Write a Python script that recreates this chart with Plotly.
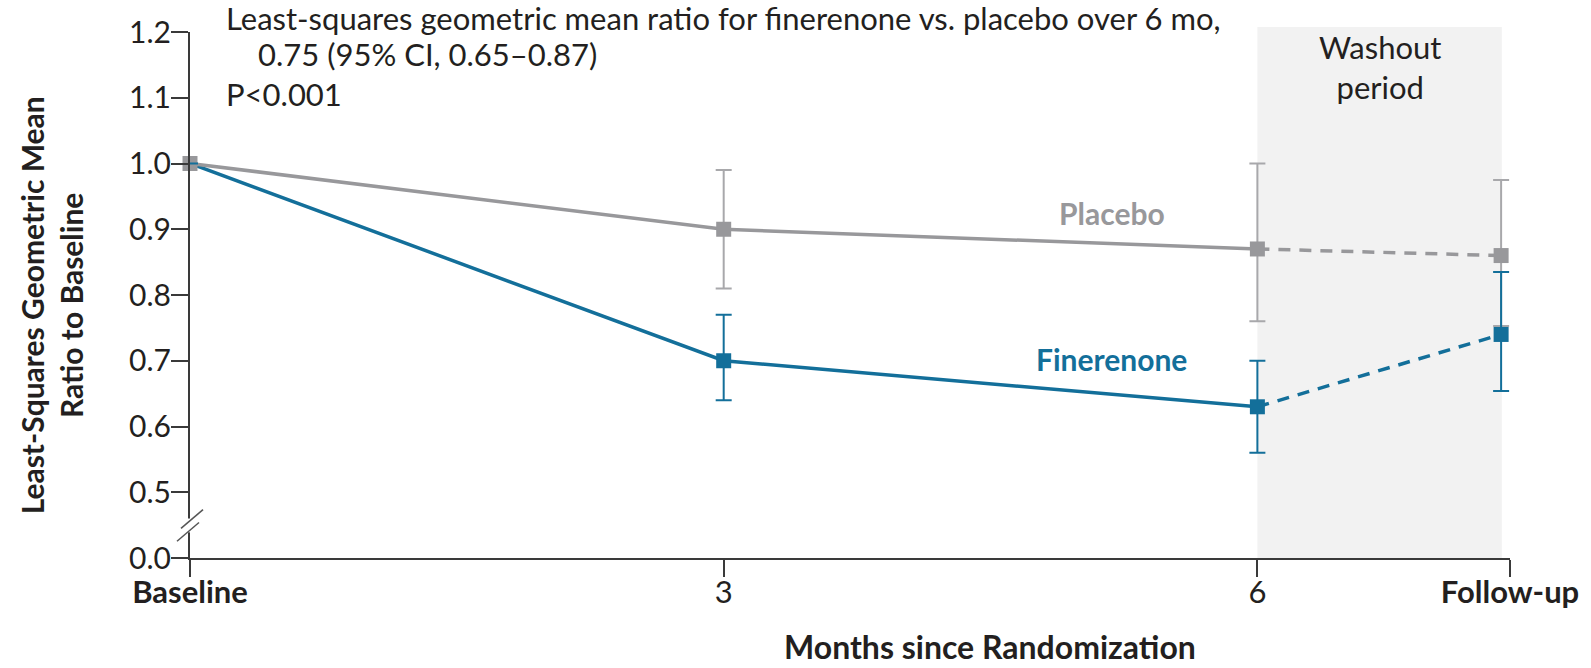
import plotly.graph_objects as go

# Visit positions on the month axis (follow-up visit sits just before the axis end)
visit_x = [0, 3, 6, 7.37]
tick_x = [0, 3, 6, 7.42]
tick_labels = ["<b>Baseline</b>", "3", "6", "<b>Follow-up</b>"]

# Least-squares geometric mean ratio to baseline, with 95% CI
placebo_mean = [1.00, 0.90, 0.87, 0.86]
placebo_upper = [1.00, 0.99, 1.00, 0.975]
placebo_lower = [1.00, 0.81, 0.76, 0.753]

finerenone_mean = [1.00, 0.70, 0.63, 0.74]
finerenone_upper = [1.00, 0.77, 0.70, 0.835]
finerenone_lower = [1.00, 0.64, 0.56, 0.654]

# Y axis: the bottom slot (0.4) is shown as 0.0 beyond the axis break
y_tickvals = [0.4, 0.5, 0.6, 0.7, 0.8, 0.9, 1.0, 1.1, 1.2]
y_ticktext = ["0.0", "0.5", "0.6", "0.7", "0.8", "0.9", "1.0", "1.1", "1.2"]

washout_start = 6
washout_end = 7.374

GRAY = "#98989b"
GRAY_BAR = "#a8a8ab"
BLUE = "#136f9a"
INK = "#231f20"
AXIS = "#3a3a3a"
FONT = "Lato"

# plot area in page pixels
L, R, T, B = 190, 1510, 25, 558


def px(x):
    return (x - L) / (R - L)


def py(y):
    return (B - y) / (B - T)


fig = go.Figure()


def add_lines(mean, color):
    fig.add_trace(go.Scatter(
        x=visit_x[:3], y=mean[:3], mode="lines",
        line=dict(color=color, width=3.5), cliponaxis=False,
        hoverinfo="skip", showlegend=False))
    fig.add_trace(go.Scatter(
        x=visit_x[2:], y=mean[2:], mode="lines",
        line=dict(color=color, width=3.5, dash="12px,9px"), cliponaxis=False,
        hoverinfo="skip", showlegend=False))


def add_points(mean, upper, lower, color, bar_color, marker_sizes):
    # confidence intervals first, squares drawn over them
    fig.add_trace(go.Scatter(
        x=visit_x, y=mean, mode="markers",
        marker=dict(size=1, color=bar_color, opacity=0, line=dict(width=0)),
        error_y=dict(type="data", symmetric=False,
                     array=[u - m for u, m in zip(upper, mean)],
                     arrayminus=[m - l for m, l in zip(mean, lower)],
                     color=bar_color, thickness=2, width=8),
        cliponaxis=False, hoverinfo="skip", showlegend=False))
    fig.add_trace(go.Scatter(
        x=visit_x, y=mean, mode="markers",
        marker=dict(symbol="square", size=marker_sizes, color=color, opacity=1,
                    line=dict(width=0)),
        cliponaxis=False, showlegend=False))


add_lines(finerenone_mean, BLUE)
add_lines(placebo_mean, GRAY)
add_points(placebo_mean, placebo_upper, placebo_lower, GRAY, GRAY_BAR, [15, 15, 15, 15])
add_points(finerenone_mean, finerenone_upper, finerenone_lower, BLUE, BLUE, [0, 15, 15, 15])

shapes = [
    # washout shading
    dict(type="rect", xref="x", yref="paper", x0=washout_start, x1=washout_end,
         y0=0, y1=py(20), fillcolor="#f2f2f2", line=dict(width=0), layer="below"),
    # axis break on the y axis
    dict(type="rect", xref="paper", yref="paper", x0=px(186), x1=px(194),
         y0=py(532), y1=py(518), fillcolor="white", line=dict(width=0), layer="above"),
    dict(type="line", xref="paper", yref="paper", x0=px(177), y0=py(541),
         x1=px(199), y1=py(522), line=dict(color="#555555", width=1.5), layer="above"),
    dict(type="line", xref="paper", yref="paper", x0=px(181), y0=py(528),
         x1=px(203), y1=py(509), line=dict(color="#555555", width=1.5), layer="above"),
]


def note(text, x, y, xanchor="left", size=30, angle=0):
    return dict(text=text, xref="paper", yref="paper", x=px(x), y=py(y),
                xanchor=xanchor, yanchor="middle", showarrow=False, textangle=angle,
                borderpad=0, font=dict(family=FONT, size=size, color=INK))


annotations = [
    note("Least-squares geometric mean ratio for finerenone vs. placebo over 6 mo,", 225, 11, size=31),
    note("0.75 (95% CI, 0.65–0.87)", 257, 47, size=31),
    note("P<0.001", 225, 88, size=31),
    note("Washout<br>period", 1380, 60, xanchor="center", size=31),
    note("<b>Least-Squares Geometric Mean<br>Ratio to Baseline</b>", 51, 302,
         xanchor="center", size=30, angle=-90),
    note("<b>Months since Randomization</b>", 990, 648, xanchor="center", size=32),
]

# series labels next to the lines
annotations += [
    dict(text="<b>Placebo</b>", xref="x", yref="y", x=5.18, y=0.925, showarrow=False,
         font=dict(family=FONT, size=30, color=GRAY), xanchor="center", yanchor="middle"),
    dict(text="<b>Finerenone</b>", xref="x", yref="y", x=5.18, y=0.703, showarrow=False,
         font=dict(family=FONT, size=30, color=BLUE), xanchor="center", yanchor="middle"),
]

fig.update_layout(
    width=1591, height=668,
    margin=dict(l=L, r=1591 - R, t=T, b=668 - B),
    paper_bgcolor="white", plot_bgcolor="white",
    font=dict(family=FONT, size=30, color=INK),
    shapes=shapes, annotations=annotations, showlegend=False,
    xaxis=dict(range=[tick_x[0], tick_x[-1]], tickvals=tick_x, ticktext=tick_labels,
               showgrid=False, zeroline=False, showline=True, linecolor=AXIS,
               linewidth=2, ticks="outside", ticklen=17, tickwidth=2, tickcolor=AXIS,
               ticklabelstandoff=-11,
               tickfont=dict(family=FONT, size=31, color=INK)),
    yaxis=dict(range=[0.4, 1.2], tickvals=y_tickvals, ticktext=y_ticktext,
               showgrid=False, zeroline=False, showline=True, linecolor=AXIS,
               linewidth=2, ticks="outside", ticklen=17, tickwidth=2, tickcolor=AXIS,
               ticklabelstandoff=-6,
               tickfont=dict(family=FONT, size=30, color=INK)),
)

fig.write_html("out.html")
